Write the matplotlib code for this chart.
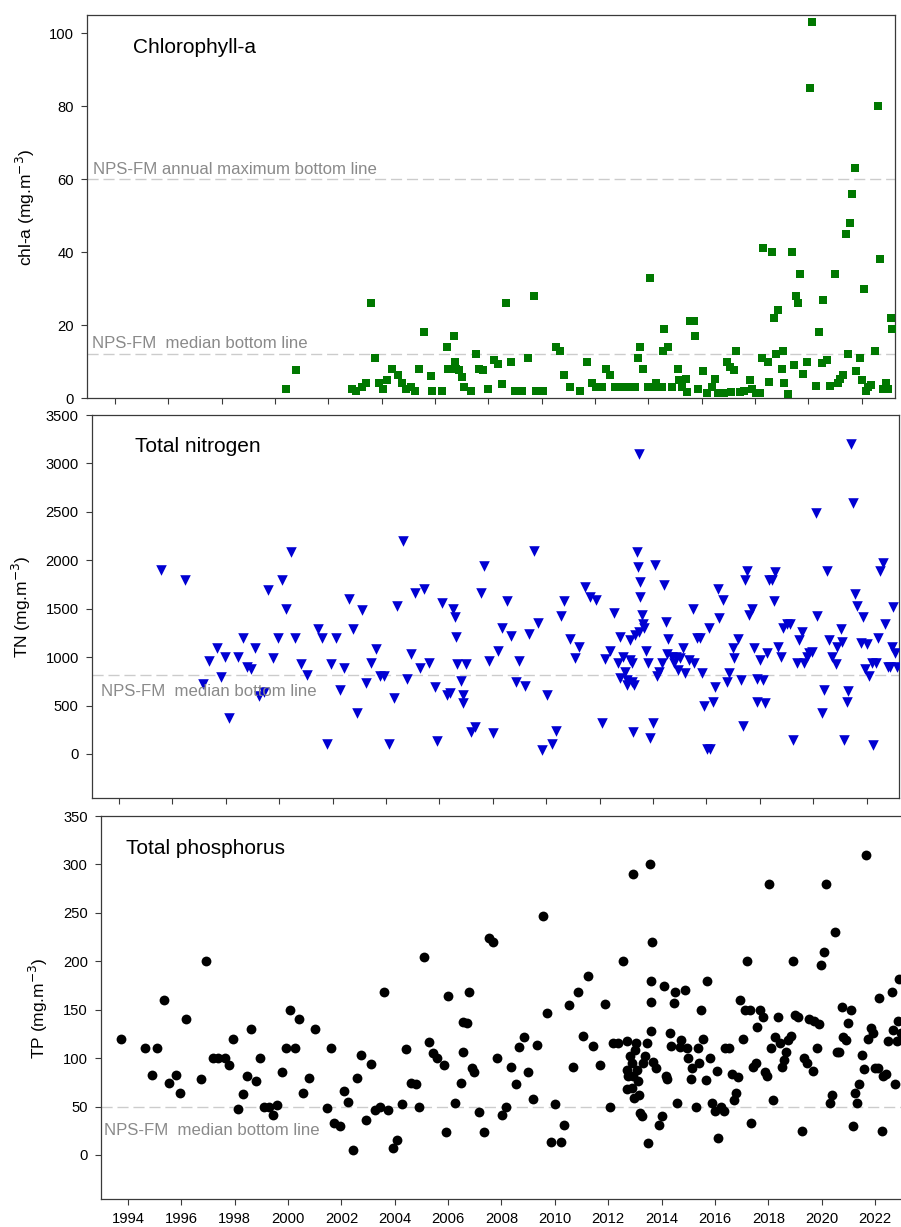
import matplotlib
matplotlib.use("Agg")
import matplotlib.pyplot as plt

plt.rcParams['font.family'] = ['Liberation Sans', 'DejaVu Sans']

# ---------------- data ----------------
chl_year = [2000.4, 2000.8, 2002.9, 2003.05, 2003.25, 2003.4, 2003.6, 2003.75, 2003.9, 2004.05,
            2004.2, 2004.4, 2004.6, 2004.75, 2004.9, 2005.1, 2005.25, 2005.4, 2005.6, 2005.85,
            2005.9, 2006.25, 2006.45, 2006.5, 2006.7, 2006.75, 2006.8, 2006.9, 2007.0, 2007.1,
            2007.35, 2007.55, 2007.65, 2007.8, 2008.0, 2008.2, 2008.35, 2008.5, 2008.65, 2008.85,
            2009.0, 2009.25, 2009.5, 2009.7, 2009.8, 2010.05, 2010.55, 2010.7, 2010.85, 2011.05,
            2011.45, 2011.7, 2011.9, 2012.05, 2012.25, 2012.4, 2012.55, 2012.75, 2012.9, 2013.05,
            2013.2, 2013.35, 2013.5, 2013.6, 2013.7, 2013.8, 2014.0, 2014.05, 2014.2, 2014.3,
            2014.5, 2014.55, 2014.6, 2014.75, 2014.9, 2015.1, 2015.15, 2015.25, 2015.4, 2015.45,
            2015.55, 2015.7, 2015.75, 2015.85, 2016.05, 2016.2, 2016.4, 2016.5, 2016.6, 2016.85,
            2016.95, 2017.05, 2017.1, 2017.2, 2017.3, 2017.45, 2017.6, 2017.8, 2017.9, 2018.05,
            2018.2, 2018.25, 2018.3, 2018.5, 2018.52, 2018.65, 2018.7, 2018.8, 2018.85, 2019.0,
            2019.05, 2019.1, 2019.25, 2019.4, 2019.45, 2019.55, 2019.6, 2019.7, 2019.8, 2019.95,
            2020.05, 2020.15, 2020.3, 2020.4, 2020.5, 2020.55, 2020.7, 2020.8, 2021.0, 2021.1,
            2021.2, 2021.3, 2021.4, 2021.5, 2021.55, 2021.65, 2021.75, 2021.8, 2021.95, 2022.0,
            2022.1, 2022.15, 2022.25, 2022.35, 2022.5, 2022.6, 2022.7, 2022.8, 2022.9, 2023.0,
            2023.1, 2023.15]
chl_val = [2.6, 7.6, 2.6, 2, 3, 4, 26, 11, 4, 2.6,
           5, 8, 6.4, 4, 2.6, 3, 2, 8, 18, 6,
           2, 2, 14, 8, 17, 9.8, 8, 7.6, 5.7, 3,
           2, 12, 8, 7.6, 2.6, 10.3, 9.2, 3.8, 26, 10,
           2, 2, 11, 28, 2, 2, 14, 13, 6.2, 3,
           2, 10, 4, 3, 3, 8, 6.2, 3, 3, 3,
           3, 3, 3, 11, 14, 8, 3, 33, 3, 4,
           3, 13, 19, 14, 3, 8, 4.8, 3, 5.3, 1.6,
           21, 21, 17, 2.6, 7.3, 1.3, 3, 5.3, 1.3, 1.3,
           10, 8.5, 1.6, 7.6, 13, 1.6, 2, 4.8, 2.6, 1.3,
           1.3, 11, 41, 10, 4.3, 40, 22, 12, 24, 8,
           13, 4, 1.2, 40, 9, 28, 26, 34, 6.7, 10,
           85, 103, 3.2, 18, 9.5, 27, 10.5, 3.2, 34, 4,
           5.3, 6.2, 45, 12, 48, 56, 63, 7.3, 11, 4.8,
           30, 2, 3, 3.5, 13, 80, 38, 2.6, 4, 2.6,
           22, 19]

tn_year = [1995.57, 1996.47, 1997.15, 1997.37, 1997.67, 1997.82, 1997.97, 1998.12, 1998.45, 1998.64,
           1998.79, 1998.94, 1999.09, 1999.24, 1999.43, 1999.58, 1999.77, 1999.95, 2000.1, 2000.25,
           2000.44, 2000.59, 2000.81, 2001.04, 2001.45, 2001.6, 2001.79, 2001.94, 2002.13, 2002.28,
           2002.43, 2002.61, 2002.76, 2002.91, 2003.1, 2003.25, 2003.44, 2003.63, 2003.78, 2003.93,
           2004.11, 2004.3, 2004.41, 2004.64, 2004.79, 2004.94, 2005.09, 2005.27, 2005.42, 2005.61,
           2005.83, 2005.91, 2006.1, 2006.28, 2006.4, 2006.5, 2006.58, 2006.62, 2006.66, 2006.81,
           2006.9, 2006.9, 2007.0, 2007.18, 2007.33, 2007.56, 2007.67, 2007.86, 2008.0, 2008.2,
           2008.35, 2008.53, 2008.68, 2008.87, 2008.98, 2009.2, 2009.36, 2009.54, 2009.69, 2009.84,
           2010.03, 2010.22, 2010.37, 2010.55, 2010.67, 2010.89, 2011.08, 2011.23, 2011.45, 2011.64,
           2011.87, 2012.09, 2012.2, 2012.39, 2012.54, 2012.69, 2012.76, 2012.76, 2012.88, 2012.95,
           2013.03, 2013.03, 2013.14, 2013.14, 2013.2, 2013.2, 2013.29, 2013.33, 2013.4, 2013.44,
           2013.51, 2013.51, 2013.59, 2013.62, 2013.66, 2013.48, 2013.74, 2013.82, 2013.48, 2013.25,
           2013.89, 2014.0, 2014.07, 2014.15, 2014.22, 2014.33, 2014.41, 2014.48, 2014.52, 2014.56,
           2014.71, 2014.78, 2014.86, 2014.93, 2015.0, 2015.12, 2015.2, 2015.35, 2015.5, 2015.54,
           2015.65, 2015.76, 2015.85, 2015.92, 2016.03, 2016.13, 2016.25, 2016.32, 2016.1, 2016.47,
           2016.43, 2016.62, 2016.77, 2016.85, 2017.0, 2017.04, 2017.18, 2017.29, 2017.37, 2017.45,
           2017.52, 2017.6, 2017.7, 2017.78, 2017.88, 2017.88, 2018.0, 2018.1, 2018.2, 2018.25,
           2018.35, 2018.45, 2018.57, 2018.53, 2018.68, 2018.8, 2018.87, 2019.0, 2019.13, 2019.24,
           2019.4, 2019.47, 2019.58, 2019.66, 2019.77, 2019.85, 2019.96, 2020.1, 2020.14, 2020.33,
           2020.4, 2020.52, 2020.59, 2020.7, 2020.85, 2020.89, 2021.04, 2021.08, 2021.15, 2021.26,
           2021.3, 2021.42, 2021.5, 2021.57, 2021.64, 2021.79, 2021.86, 2021.94, 2022.01, 2022.1,
           2022.2, 2022.25, 2022.36, 2022.43, 2022.5, 2022.61, 2022.7, 2022.78, 2022.89, 2022.95,
           2023.0, 2023.07, 2023.15]
tn_val = [1900, 1800, 720, 960, 1090, 790, 1000, 370, 1000, 1200,
          900, 880, 1090, 600, 640, 1690, 990, 1200, 1800, 1500,
          2090, 1200, 930, 810, 1290, 1200, 100, 930, 1200, 660,
          890, 1600, 1290, 420, 1490, 730, 940, 1080, 800, 800,
          100, 580, 1530, 2200, 770, 1030, 1660, 890, 1700, 940,
          690, 130, 1560, 610, 630, 1500, 1410, 1210, 930, 750,
          610, 530, 930, 230, 280, 1660, 1940, 960, 220, 1060,
          1300, 1580, 1220, 740, 960, 700, 1240, 2100, 1350, 40,
          610, 100, 240, 1420, 1580, 1190, 990, 1100, 1720, 1620,
          1590, 320, 980, 1060, 1460, 940, 1210, 780, 1000, 850,
          760, 710, 1180, 970, 940, 740, 710, 1230, 2090, 1930,
          1780, 1620, 1430, 1340, 1300, 1260, 1060, 940, 3100, 230,
          160, 320, 1950, 800, 850, 940, 1740, 1360, 1030, 1190,
          1000, 940, 1000, 870, 990, 1090, 840, 970, 1500, 940,
          1200, 1200, 840, 500, 55, 55, 540, 690, 1300, 1400,
          1700, 1590, 740, 840, 1090, 990, 1190, 760, 290, 1800,
          1890, 1430, 1500, 1090, 770, 540, 970, 760, 530, 1040,
          1800, 1800, 1880, 1580, 1100, 1000, 1300, 1340, 1340, 140,
          940, 1180, 1260, 940, 1000, 1040, 1050, 2490, 1420, 420,
          660, 1890, 1180, 1000, 930, 1100, 1290, 1160, 140, 540,
          650, 3200, 2590, 1650, 1530, 1150, 1410, 880, 1140, 800,
          940, 90, 940, 1200, 1890, 1970, 1340, 900, 900, 1100,
          1520, 1040, 900]

tp_year = [1993.73, 1994.64, 1994.91, 1995.09, 1995.34, 1995.55, 1995.81, 1995.95, 1996.19, 1996.72,
           1996.92, 1997.17, 1997.38, 1997.63, 1997.8, 1997.95, 1998.11, 1998.3, 1998.45, 1998.61,
           1998.79, 1998.95, 1999.11, 1999.29, 1999.45, 1999.6, 1999.76, 1999.92, 2000.07, 2000.26,
           2000.42, 2000.57, 2000.8, 2001.01, 2001.45, 2001.6, 2001.73, 2001.95, 2002.1, 2002.26,
           2002.42, 2002.57, 2002.73, 2002.92, 2003.1, 2003.26, 2003.45, 2003.61, 2003.76, 2003.92,
           2004.1, 2004.28, 2004.42, 2004.61, 2004.8, 2004.92, 2005.09, 2005.28, 2005.42, 2005.59,
           2005.84, 2005.91, 2006.01, 2006.26, 2006.47, 2006.54, 2006.57, 2006.69, 2006.78, 2006.88,
           2006.97, 2007.17, 2007.34, 2007.54, 2007.67, 2007.84, 2008.03, 2008.17, 2008.34, 2008.53,
           2008.66, 2008.84, 2009.0, 2009.19, 2009.34, 2009.54, 2009.69, 2009.84, 2010.0, 2010.22,
           2010.35, 2010.54, 2010.69, 2010.88, 2011.06, 2011.23, 2011.44, 2011.69, 2011.88, 2012.07,
           2012.19, 2012.38, 2012.54, 2012.69, 2012.72, 2012.75, 2012.82, 2012.88, 2012.92, 2012.97,
           2013.0, 2013.06, 2013.09, 2013.12, 2013.16, 2013.21, 2013.25, 2012.69, 2012.88, 2013.31,
           2013.38, 2013.44, 2012.94, 2013.56, 2013.5, 2013.62, 2013.6, 2013.62, 2013.66, 2013.69,
           2013.81, 2013.91, 2014.0, 2014.09, 2014.16, 2014.21, 2014.31, 2014.37, 2014.46, 2014.5,
           2014.59, 2014.69, 2014.73, 2014.88, 2014.94, 2015.0, 2015.09, 2015.15, 2015.29, 2015.38,
           2015.42, 2015.48, 2015.57, 2015.67, 2015.72, 2015.83, 2015.9, 2016.0, 2016.06, 2016.12,
           2016.22, 2016.34, 2016.38, 2016.53, 2016.63, 2016.71, 2016.79, 2016.87, 2016.94, 2017.04,
           2017.13, 2017.19, 2017.31, 2017.35, 2017.44, 2017.54, 2017.59, 2017.69, 2017.79, 2017.88,
           2017.97, 2018.04, 2018.12, 2018.19, 2018.25, 2018.35, 2018.43, 2018.52, 2018.59, 2018.66,
           2018.75, 2018.84, 2018.91, 2019.0, 2019.13, 2019.25, 2019.34, 2019.44, 2019.54, 2019.66,
           2019.72, 2019.83, 2019.91, 2019.97, 2020.09, 2020.15, 2020.31, 2020.4, 2020.5, 2020.56,
           2020.66, 2020.75, 2020.81, 2020.91, 2021.0, 2021.09, 2021.16, 2021.25, 2021.31, 2021.41,
           2021.5, 2021.59, 2021.66, 2021.75, 2021.84, 2021.93, 2022.0, 2022.12, 2022.16, 2022.25,
           2022.31, 2022.41, 2022.5, 2022.62, 2022.69, 2022.75, 2022.84, 2022.88, 2022.91, 2022.97]
tp_val = [120, 110, 83, 110, 160, 74, 83, 64, 140, 78,
          200, 100, 100, 100, 93, 120, 47, 63, 82, 130,
          76, 100, 49, 50, 41, 52, 86, 110, 150, 110,
          140, 64, 79, 130, 48, 110, 33, 30, 66, 55,
          5, 79, 103, 36, 94, 46, 49, 168, 46, 7,
          15, 53, 109, 74, 73, 49, 204, 117, 105, 100,
          93, 24, 164, 54, 74, 106, 137, 136, 168, 90,
          86, 44, 24, 224, 220, 100, 41, 50, 91, 73,
          111, 122, 86, 58, 114, 247, 147, 13, 53, 13,
          31, 155, 91, 168, 123, 185, 113, 93, 156, 50,
          116, 116, 200, 118, 88, 81, 102, 95, 81, 59,
          108, 116, 88, 76, 62, 43, 40, 68, 69, 95,
          102, 116, 290, 300, 12, 128, 158, 180, 220, 96,
          90, 31, 40, 174, 81, 78, 126, 113, 157, 168,
          54, 111, 119, 170, 110, 100, 78, 90, 50, 110,
          95, 150, 120, 77, 180, 100, 54, 45, 87, 17,
          50, 45, 110, 110, 84, 57, 64, 80, 160, 120,
          150, 200, 150, 33, 91, 95, 132, 150, 142, 86,
          81, 280, 110, 57, 122, 142, 116, 91, 98, 106,
          119, 123, 200, 144, 142, 25, 100, 95, 140, 87,
          138, 110, 135, 196, 210, 280, 54, 62, 230, 106,
          106, 153, 122, 119, 136, 150, 30, 64, 54, 73,
          103, 89, 310, 120, 131, 126, 90, 90, 162, 25,
          81, 84, 118, 168, 129, 73, 118, 138, 182, 126]

year_ticks = list(range(1994, 2023, 2))
chl_ticks = [0, 20, 40, 60, 80, 100]
tn_ticks = [0, 500, 1000, 1500, 2000, 2500, 3000, 3500]
tp_ticks = [0, 50, 100, 150, 200, 250, 300, 350]

chl_median_line = 12
chl_max_line = 60
tn_median_line = 820
tp_median_line = 50

# ---------------- layout ----------------
W, H = 901, 1227
fig = plt.figure(figsize=(W / 100, H / 100), dpi=100)


def ax_at(l, t, r, b):
    return fig.add_axes([l / W, 1 - b / H, (r - l) / W, (b - t) / H])


SPINE = '#3a3a3a'
LINEC = '#cccccc'
TXTC = '#8a8a8a'


def style(ax):
    for s in ax.spines.values():
        s.set_color(SPINE)
        s.set_linewidth(0.9)
    ax.tick_params(direction='out', length=4, width=0.8, color=SPINE,
                   labelsize=10.6, pad=5.5, top=False, right=False)
    ax.set_xticks(year_ticks)


def hline(ax, y):
    ax.axhline(y, color=LINEC, lw=1.0, dashes=(8, 3.5), zorder=1)


# Panel 1: chlorophyll-a
ax1 = ax_at(87, 15, 895, 398)
style(ax1)
ax1.set_xlim(1992.95, 2023.25)
ax1.set_ylim(0, 105)
ax1.set_yticks(chl_ticks)
ax1.tick_params(axis='x', labelbottom=False)
hline(ax1, chl_max_line)
hline(ax1, chl_median_line)
ax1.scatter(chl_year, chl_val, marker='s', s=38, color='#007800', linewidths=0, zorder=3)

# Panel 2: total nitrogen
ax2 = ax_at(92, 415, 899, 798)
style(ax2)
ax2.set_xlim(1992.99, 2023.21)
ax2.set_ylim(-455, 3500)
ax2.set_yticks(tn_ticks)
ax2.tick_params(axis='x', labelbottom=False)
hline(ax2, tn_median_line)
ax2.scatter(tn_year, tn_val, marker='v', s=58, color='#0000d2', linewidths=0, zorder=3)

# Panel 3: total phosphorus
ax3 = ax_at(101, 816, 911, 1199)
style(ax3)
ax3.set_xlim(1992.99, 2023.35)
ax3.set_ylim(-45.5, 350)
ax3.set_yticks(tp_ticks)
ax3.set_xticklabels([str(y) for y in year_ticks])
hline(ax3, tp_median_line)
ax3.scatter(tp_year, tp_val, marker='o', s=50, color='black', linewidths=0, zorder=3)

# ---------------- text ----------------
def ftext(x, y, s, **kw):
    fig.text(x / W, 1 - y / H, s, **kw)


ftext(133, 53, 'Chlorophyll-a', fontsize=15, va='baseline', ha='left')
ftext(135, 452.5, 'Total nitrogen', fontsize=15, va='baseline', ha='left')
ftext(126, 854, 'Total phosphorus', fontsize=15, va='baseline', ha='left')

ftext(93, 173.5, 'NPS-FM annual maximum bottom line', fontsize=12.1, color=TXTC, va='baseline')
ftext(92, 348.5, 'NPS-FM  median bottom line', fontsize=12.1, color=TXTC, va='baseline')
ftext(101, 696.5, 'NPS-FM  median bottom line', fontsize=12.1, color=TXTC, va='baseline')
ftext(104, 1135, 'NPS-FM  median bottom line', fontsize=12.1, color=TXTC, va='baseline')

ftext(25, 207, 'chl-a (mg.m$^{-3}$)', fontsize=12.5, rotation=90, ha='center', va='center')
ftext(21, 607, 'TN (mg.m$^{-3}$)', fontsize=12.5, rotation=90, ha='center', va='center')
ftext(38, 1008, 'TP (mg.m$^{-3}$)', fontsize=12.5, rotation=90, ha='center', va='center')

fig.savefig('out.png', dpi=100)
